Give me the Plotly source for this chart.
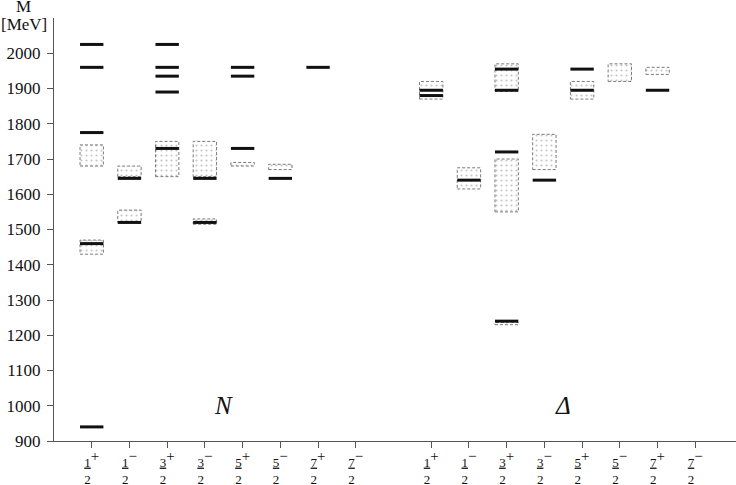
import plotly.graph_objects as go

# ---- data ----
jp_num = ["1", "1", "3", "3", "5", "5", "7", "7"]
jp_par = ["+", "\u2212", "+", "\u2212", "+", "\u2212", "+", "\u2212"]
jp_den = ["2"] * 8

N_x = [1, 2, 3, 4, 5, 6, 7, 8]
D_x = [10, 11, 12, 13, 14, 15, 16, 17]

# model states (solid lines), MeV
N_lines = [[940, 1460, 1775, 1960, 2025], [1520, 1645], [1730, 1890, 1935, 1960, 2025],
           [1520, 1645], [1730, 1935, 1960], [1645], [1960], []]
D_lines = [[1880, 1895], [1640], [1240, 1720, 1895, 1955], [1640], [1895, 1955], [], [1895], []]

# experimental ranges (dotted boxes), MeV
N_box_lo = [[1430, 1680], [1520, 1650], [1650], [1515, 1650], [1680], [1670], [], []]
N_box_hi = [[1470, 1740], [1555, 1680], [1750], [1530, 1750], [1690], [1685], [], []]
D_box_lo = [[1870], [1615], [1230, 1550, 1892], [1670], [1870], [1920], [1940], []]
D_box_hi = [[1920], [1675], [1236, 1700, 1970], [1770], [1920], [1970], [1960], []]

group_labels = ["<i>N</i>", "<i>\u0394</i>"]
group_label_x = [4.5, 13.5]
group_label_y = [1000, 1000]

HALF = 0.31

# ---- build geometry from data ----
bx, by = [], []
for xs, los, his in [(N_x, N_box_lo, N_box_hi), (D_x, D_box_lo, D_box_hi)]:
    for x, lo_l, hi_l in zip(xs, los, his):
        for lo, hi in zip(lo_l, hi_l):
            bx += [x - HALF, x + HALF, x + HALF, x - HALF, x - HALF, None]
            by += [lo, lo, hi, hi, lo, None]

lx, ly = [], []
for xs, lines in [(N_x, N_lines), (D_x, D_lines)]:
    for x, ms in zip(xs, lines):
        for m in ms:
            lx += [x - HALF, x + HALF, None]
            ly += [m, m, None]

fig = go.Figure()
fig.add_trace(go.Scatter(
    x=bx, y=by, mode="lines", fill="toself",
    line=dict(color="#7a7a7a", width=1, dash="3px,2px"),
    fillcolor="white",
    fillpattern=dict(shape=".", fgcolor="#8a8a8a", bgcolor="white", size=5, solidity=0.14),
    hoverinfo="skip", showlegend=False))
fig.add_trace(go.Scatter(
    x=lx, y=ly, mode="lines",
    line=dict(color="#111111", width=3),
    hoverinfo="skip", showlegend=False))

tickvals = N_x + D_x
ticktext = []
for n, p, d in zip(jp_num, jp_par, jp_den):
    ticktext.append(
        f"<u>{n}</u><span style='font-size:15px;baseline-shift:40%'>{p}</span><br>"
        f"{d}<span style='font-size:15px;color:rgba(255,255,255,0)'>{p}</span>")
ticktext = ticktext * 2

for t, x, y in zip(group_labels, group_label_x, group_label_y):
    fig.add_annotation(x=x, y=y, text=t, showarrow=False,
                       font=dict(family="Liberation Serif", size=25, color="#111"))

fig.add_annotation(xref="paper", yref="paper", x=-0.045, y=1.027,
                   xanchor="center", yanchor="middle",
                   text="M", showarrow=False,
                   font=dict(family="Liberation Serif", size=17, color="#111"))
fig.add_annotation(xref="paper", yref="paper", x=-0.044, y=0.985,
                   xanchor="center", yanchor="middle",
                   text="[MeV]", showarrow=False,
                   font=dict(family="Liberation Serif", size=17, color="#111"))

fig.update_layout(
    width=736, height=485,
    margin=dict(l=54, r=0, t=18, b=44, autoexpand=False),
    paper_bgcolor="white", plot_bgcolor="white",
    showlegend=False,
    font=dict(family="Liberation Serif", color="#111"),
    xaxis=dict(range=[0, 18.08], tickvals=tickvals, ticktext=ticktext,
               ticks="outside", ticklen=6, tickcolor="#555", showline=True,
               linecolor="#555", linewidth=1, showgrid=False, zeroline=False,
               ticklabelstandoff=3, automargin=False,
               tickfont=dict(size=13, family="Liberation Serif", color="#111")),
    yaxis=dict(range=[900, 2100], tickvals=list(range(900, 2001, 100)),
               ticks="outside", ticklen=6, tickcolor="#555", showline=True,
               linecolor="#555", linewidth=1, showgrid=False, zeroline=False,
               ticklabelstandoff=3, automargin=False,
               tickfont=dict(size=17, family="Liberation Serif", color="#111")),
)

fig.write_html("out.html", config={"displayModeBar": False},
               post_script="document.body.style.margin='0px';")
